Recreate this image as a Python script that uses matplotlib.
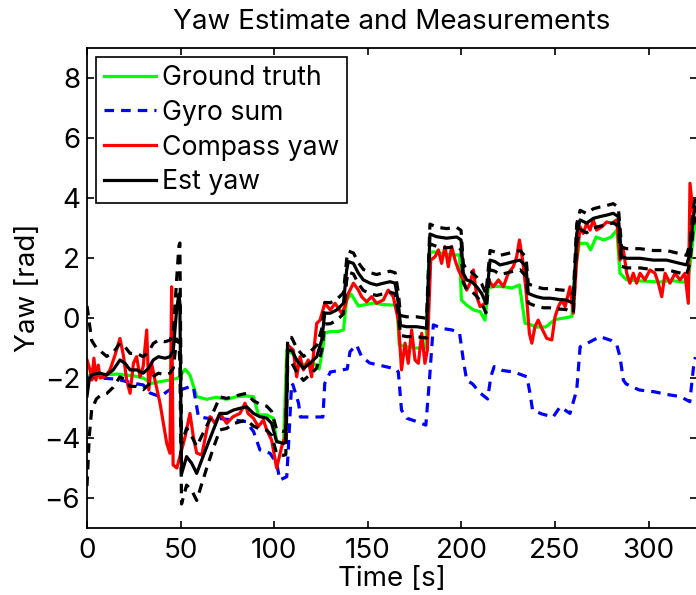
import numpy as np
import matplotlib
matplotlib.use("Agg")
import matplotlib.pyplot as plt

# ---- data -------------------------------------------------------------
truth_t = [0, 7, 16, 25, 30, 34.5, 39, 44, 48.8, 52.4, 55, 58.6, 64, 69, 74.6, 80, 85, 89,
           91.5, 96, 99.5, 101.3, 105, 106.7, 110, 114, 118, 121, 124, 126, 127, 130, 134,
           137, 138.7, 141, 145, 149, 153, 158, 163, 165.5, 166.8, 170, 175, 181, 183, 186,
           190, 195, 199, 200, 202.8, 206.4, 210, 212.6, 214.4, 217, 222, 227, 231, 234,
           236, 240, 245, 250, 255, 259, 260.5, 263, 267, 269, 272, 276, 280, 283, 284.7,
           288.3, 292, 300, 306, 312, 318, 321, 323.5, 325]
truth_y = [-1.93, -1.9, -1.87, -1.93, -2.0, -2.18, -2.12, -2.07, -2.0, -1.71, -1.9, -2.62,
           -2.71, -2.64, -2.71, -2.62, -2.6, -2.62, -3.23, -3.23, -3.34, -4.12, -4.16, -1.07,
           -1.2, -1.6, -1.5, -1.5, -1.7, -1.0, -0.5, -0.45, -0.45, -0.4, 0.6, 0.8, 0.4, 0.45,
           0.5, 0.45, 0.43, 0.45, -0.9, -0.95, -1.0, -1.0, 2.2, 2.2, 2.15, 2.1, 2.1, 0.6,
           0.43, 0.27, 0.21, -0.07, 1.0, 1.05, 1.05, 1.0, 1.1, -0.18, -0.2, -0.3, -0.3,
           -0.05, 0.0, 0.05, 1.5, 2.49, 2.49, 2.27, 2.7, 2.6, 2.7, 2.93, 1.49, 1.27, 1.25,
           1.22, 1.2, 1.25, 1.2, 1.2, 2.5, 3.3]

gyro_t = [0, 7, 16, 25, 30, 33.7, 39, 44, 49.7, 55, 56.8, 59.5, 64, 69, 78, 85, 89, 92.4,
          97.8, 101.3, 103, 106.7, 107.6, 109.3, 110, 113, 114, 120, 126, 127, 130, 139,
          140.5, 144, 146.7, 151, 158, 165, 166.3, 168, 170.8, 176, 181, 183, 185, 190,
          195, 199, 201, 202.8, 206, 210, 214, 215.7, 217.5, 222, 228, 235, 236.6, 238,
          243, 249, 252.7, 258, 261.6, 263.4, 267, 274, 280, 283, 284.7, 286.5, 288, 295,
          303, 310, 317, 322, 324, 325]
gyro_y = [-2.0, -2.0, -2.04, -2.18, -2.23, -2.5, -2.62, -2.4, -2.4, -2.29, -2.29, -3.29,
          -3.34, -3.34, -3.4, -3.45, -3.79, -4.4, -4.51, -4.84, -5.4, -5.29, -4.3, -2.18,
          -2.23, -2.84, -3.3, -3.3, -3.3, -2.18, -1.8, -1.7, -1.12, -0.9, -1.29, -1.5, -1.6,
          -1.7, -1.8, -3.07, -3.34, -3.45, -3.57, -2.0, -0.23, -0.35, -0.4, -0.5, -1.4,
          -2.07, -2.2, -2.5, -2.7, -1.96, -1.62, -1.75, -1.8, -1.96, -2.5, -3.07, -3.2, -3.3,
          -2.96, -3.18, -2.4, -0.96, -0.85, -0.62, -0.75, -0.9, -1.29, -2.07, -2.2, -2.4,
          -2.46, -2.55, -2.62, -2.79, -1.62, -1.3]

compass_t = [0, 1.6, 2.5, 3.7, 4.8, 6, 7, 9.6, 12.3, 15, 17.6, 19.4, 21.2, 23, 24.8, 26.5,
             28.3, 30, 31.9, 33, 34.5, 36.3, 39, 40.8, 42.6, 44.3, 45.2, 46, 48, 49.7, 52.4,
             55, 56.8, 58.6, 61.3, 64, 65.7, 68.4, 71, 74.6, 78, 81.7, 84.4, 86, 88.9, 91.5,
             94.2, 96, 98.6, 101.3, 104, 105.8, 107.2, 110.2, 112, 113.8, 115.6, 118.2, 120,
             121, 122.7, 124.5, 127, 130, 132.5, 136, 137.8, 139.6, 142.3, 145, 146.7, 149.4,
             152, 154.7, 158.3, 160.9, 163.6, 166.3, 168, 169.9, 171.6, 173.4, 175.2, 177,
             178.8, 180.5, 181.8, 183.6, 185.9, 187.7, 189.4, 191.2, 193, 194.8, 196.6,
             198.4, 201, 202.8, 204.6, 206.4, 208.2, 210, 212.6, 214.4, 217, 219.8, 222.4,
             225, 227.7, 229.5, 231, 232.7, 234.5, 236.3, 237.6, 239.3, 241, 242.9, 245.6,
             248.3, 250, 251.8, 253.6, 255.4, 258, 259.8, 261.6, 263.4, 265.1, 266.9, 268.7,
             270.4, 272.2, 275, 277.6, 280.3, 283, 284.7, 286.5, 288.3, 290, 291.8, 293.6,
             295.4, 298, 300.7, 303.4, 305.2, 307, 308.8, 311.4, 314.1, 316.8, 319.4, 321.2,
             322.1, 323.9, 325]
compass_y = [-1.4, -1.73, -2.07, -1.34, -2.07, -1.57, -2.0, -1.96, -1.73, -1.23, -0.68,
             -1.23, -2.07, -2.51, -1.51, -1.29, -1.96, -1.62, -0.4, -2.4, -1.51, -2.07,
             -2.84, -3.51, -4.18, -4.51, 1.04, -4.9, -5.0, -4.6, -3.96, -3.18, -3.96, -4.5,
             -4.57, -3.73, -3.29, -3.51, -3.18, -3.51, -3.29, -3.18, -2.84, -3.18, -3.34,
             -3.62, -3.4, -3.73, -4.07, -5.0, -4.29, -3.96, -0.9, -1.07, -1.96, -1.29, -1.73,
             -1.4, -1.96, -1.18, -0.18, -0.07, 0.49, 0.27, 0.49, 0.16, 0.38, 0.82, 1.16, 0.93,
             0.71, 0.54, 0.71, 0.49, 0.6, 0.93, 0.71, -0.07, -1.73, -0.84, -1.51, -0.4, -1.4,
             -1.51, -0.51, -1.51, -1.07, 1.93, 2.04, 2.27, 1.82, 2.38, 1.71, 2.38, 1.93, 1.6,
             1.27, 0.93, 1.16, 1.6, 0.71, 0.38, 0.49, 1.27, 1.04, 1.27, 1.04, 1.49, 1.71,
             2.04, 2.6, 1.93, 0.93, -0.51, -0.84, -0.29, -0.07, -0.34, -0.68, -0.73, 0.04,
             0.38, 0.6, 0.38, 1.04, 0.16, 1.93, 3.04, 2.82, 3.16, 2.93, 3.27, 2.93, 3.04, 3.2,
             3.16, 3.27, 1.93, 2.27, 1.49, 1.16, 1.49, 1.16, 1.49, 1.27, 1.6, 1.49, 1.16,
             0.71, 1.49, 1.16, 1.49, 1.27, 1.49, 0.49, 4.49, 3.4, 3.3]

est_t = [0, 1.2, 2.5, 5, 7, 10.5, 14, 17.6, 20.3, 23, 26.5, 30, 32.8, 35.4, 38.1, 41.7,
         44.3, 46.1, 47.9, 49.1, 49.6, 50.5, 53.2, 55.9, 58.6, 61.3, 64, 67.5, 71, 74.6,
         78.2, 81.7, 85.3, 88.9, 92.4, 96, 98.6, 101.3, 104.9, 106.2, 107.2, 109.3, 112,
         115.6, 119.1, 122.7, 125.4, 127, 130, 133.4, 137, 138.7, 139.6, 142.3, 145, 147.6,
         151.2, 154.7, 158.3, 161.9, 164.6, 166.3, 167.5, 170.7, 176, 181.4, 183.2, 186.7,
         192, 197.5, 199.8, 201, 202.8, 205.5, 208.2, 210.8, 213.1, 215.3, 217.9, 220.6,
         224.2, 227.7, 231.3, 234.5, 235.7, 237.6, 240.2, 243.8, 247.3, 252, 256, 259.8,
         261.6, 263.4, 266.9, 270.4, 274, 277.6, 281.1, 283.8, 285.6, 288.3, 295.4, 302.5,
         309.6, 316.8, 320.3, 322.1, 323.9, 325]
est_y = [-2.6, -2.05, -1.9, -1.85, -1.84, -1.9, -1.73, -1.4, -1.51, -1.73, -1.73, -1.84,
         -1.68, -1.4, -1.29, -1.34, -1.29, -1.07, 0.3, 0.8, 0.5, -5.2, -4.62, -4.84, -5.18,
         -4.73, -4.29, -3.73, -3.18, -3.18, -3.07, -3.01, -2.96, -3.18, -3.29, -3.34, -3.51,
         -4.12, -4.18, -4.15, -1.1, -1.07, -1.4, -1.68, -1.51, -1.29, -0.73, 0.16, 0.16,
         0.27, 0.49, 1.6, 1.88, 1.82, 1.49, 1.27, 1.16, 1.1, 1.16, 1.21, 1.16, 0.49, -0.25,
         -0.29, -0.29, -0.34, 2.8, 2.71, 2.66, 2.7, 2.6, 1.49, 1.27, 1.21, 1.04, 0.82, 0.49,
         1.93, 1.88, 1.77, 1.82, 1.88, 1.93, 1.71, 0.82, 0.77, 0.71, 0.66, 0.66, 0.62, 0.6,
         0.49, 2.82, 3.27, 3.16, 3.32, 3.38, 3.43, 3.49, 3.38, 2.04, 1.99, 1.99, 1.93, 1.93,
         1.82, 1.77, 2.16, 3.38, 3.7]
est_sigma = [3.0, 1.9, 1.15, 0.85, 0.75, 0.62, 0.58, 0.56, 0.55, 0.55, 0.55, 0.55, 0.55,
             0.55, 0.55, 0.55, 0.55, 0.6, 1.0, 1.6, 2.0, 1.0, 0.95, 0.9, 0.9, 0.8, 0.7, 0.6,
             0.55, 0.5, 0.45, 0.45, 0.45, 0.42, 0.42, 0.4, 0.4, 0.4, 0.4, 0.4, 0.45, 0.42,
             0.4, 0.4, 0.38, 0.38, 0.36, 0.36, 0.35, 0.35, 0.35, 0.35, 0.35, 0.35, 0.35, 0.35,
             0.35, 0.35, 0.35, 0.35, 0.35, 0.35, 0.33, 0.33, 0.33, 0.33, 0.33, 0.32, 0.32,
             0.32, 0.32, 0.32, 0.32, 0.32, 0.32, 0.32, 0.32, 0.32, 0.32, 0.32, 0.32, 0.32,
             0.32, 0.32, 0.32, 0.32, 0.32, 0.32, 0.32, 0.32, 0.32, 0.32, 0.32, 0.32, 0.32,
             0.32, 0.32, 0.32, 0.32, 0.32, 0.32, 0.32, 0.32, 0.32, 0.32, 0.32, 0.32, 0.32,
             0.32, 0.32]

x_ticks = [0, 50, 100, 150, 200, 250, 300]
y_ticks = [-6, -4, -2, 0, 2, 4, 6, 8]

# ---- figure -----------------------------------------------------------
plt.rcParams['font.family'] = ['Inter', 'Liberation Sans', 'DejaVu Sans']
FS = 20

fig = plt.figure(figsize=(6.96, 5.95), dpi=100)
ax = fig.add_axes([87 / 696, 1 - 528 / 595, 610.3 / 696, 480 / 595])

lw = 2.3
dash = (3.0, 2.2)
est = np.array(est_y)
sig = np.array(est_sigma)

ax.plot(truth_t, truth_y, color='#00ff00', lw=lw, label='Ground truth')
ax.plot(gyro_t, gyro_y, color='#0000ff', lw=lw, dashes=dash, label='Gyro sum')
ax.plot(compass_t, compass_y, color='#ff0000', lw=lw, label='Compass yaw')
ax.plot(est_t, est, color='black', lw=lw, label='Est yaw')
ax.plot(est_t, est + sig, color='black', lw=lw, dashes=dash)
ax.plot(est_t, est - sig, color='black', lw=lw, dashes=dash)

ax.set_xlim(0, 326)
ax.set_ylim(-7, 9)
ax.set_xticks(x_ticks)
ax.set_yticks(y_ticks)
ax.set_yticklabels([str(v).replace('-', '\u2212') for v in y_ticks])
ax.tick_params(direction='in', top=True, right=True, length=5, width=1.2,
               labelsize=FS)
ax.tick_params(axis='y', pad=5)
ax.tick_params(axis='x', pad=7)
for s in ax.spines.values():
    s.set_linewidth(1.3)

ax.set_title('Yaw Estimate and Measurements', fontsize=FS, pad=14)
ax.set_xlabel('Time [s]', fontsize=FS, labelpad=2)
ax.set_ylabel('Yaw [rad]', fontsize=FS, labelpad=2)

leg = ax.legend(loc='upper left', bbox_to_anchor=(9 / 610, 1 - 9 / 480),
                borderaxespad=0, fontsize=19.2, frameon=True, fancybox=False,
                framealpha=1, edgecolor='black', handlelength=1.95,
                handletextpad=0.22, labelspacing=0.33, borderpad=0.3)
leg.get_frame().set_linewidth(1.2)

fig.savefig('out.png', dpi=100)
